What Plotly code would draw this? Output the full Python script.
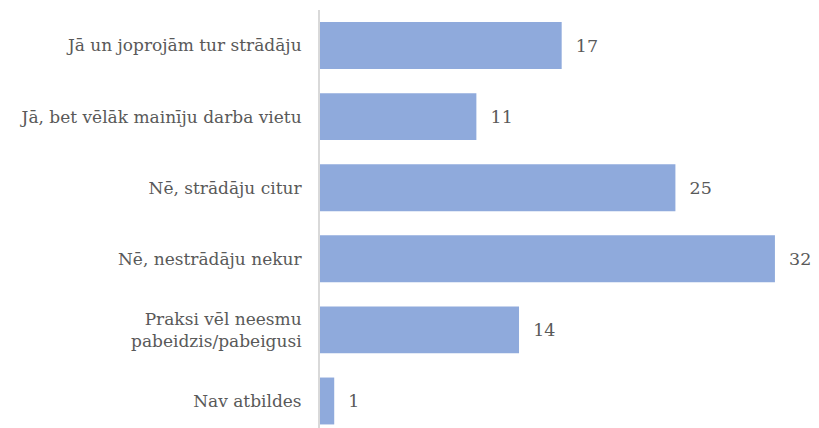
import plotly.graph_objects as go

categories = [
    "Jā un joprojām tur strādāju",
    "Jā, bet vēlāk mainīju darba vietu",
    "Nē, strādāju citur",
    "Nē, nestrādāju nekur",
    "Praksi vēl neesmu<br>pabeidzis/pabeigusi",
    "Nav atbildes",
]
values = [17, 11, 25, 32, 14, 1]

font_family = "DejaVu Serif"
text_color = "#595959"

fig = go.Figure(
    go.Bar(
        x=values,
        y=categories,
        orientation="h",
        marker=dict(color="#8faadc", line=dict(width=0)),
        text=["  " + str(v) for v in values],
        textposition="outside",
        textfont=dict(family=font_family, size=17.5, color=text_color),
        cliponaxis=False,
        width=0.66,
    )
)

fig.update_layout(
    width=811,
    height=420,
    margin=dict(l=312, r=0, t=2, b=0),
    plot_bgcolor="white",
    paper_bgcolor="white",
    showlegend=False,
    font=dict(family=font_family, size=17, color=text_color),
    xaxis=dict(
        range=[0, 35.1],
        showgrid=False,
        showticklabels=False,
        zeroline=False,
        showline=False,
    ),
    yaxis=dict(
        type="category",
        categoryorder="array",
        categoryarray=categories,
        range=[5.38, -0.5],
        showgrid=False,
        zeroline=False,
        showline=True,
        linecolor="#d9d9d9",
        linewidth=2,
        ticks="",
        ticklabelstandoff=13,
        tickfont=dict(family=font_family, size=17, color=text_color),
    ),
)

fig.write_html("out.html")
